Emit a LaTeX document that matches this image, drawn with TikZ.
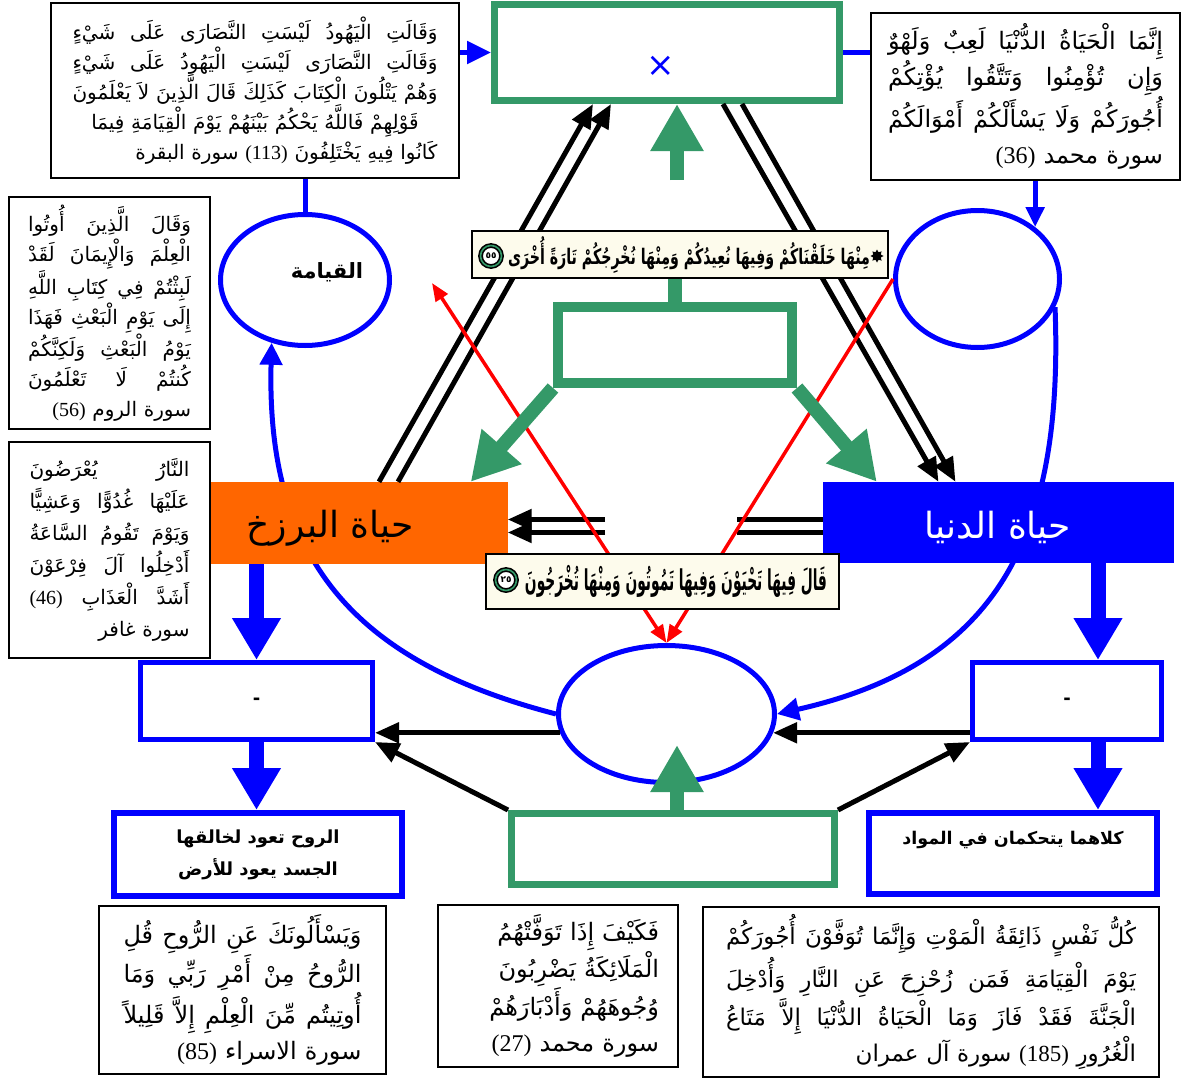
\documentclass[tikz,border=0pt]{standalone}
\usepackage{fontspec}
\usepackage{graphicx}
\usetikzlibrary{arrows.meta,shapes.geometric}
\TeXXeTstate=1
\newfontfamily\arabicfont[Script=Arabic]{DejaVu Sans}
\newfontfamily\numfont{Liberation Serif}
% one right-to-left line, a justified one, and a centred one
\newcommand{\ar}[1]{\beginR #1\endR}
\newcommand{\jl}[1]{\leavevmode\hbox to \hsize{\spaceskip=0.3em plus 1fil\relax\beginR #1\endR}}
\newcommand{\cl}[1]{\leavevmode\hbox to \hsize{\hfil\beginR #1\endR\hfil}}
\newcommand{\nm}[1]{\beginL{\numfont #1}\endL}
\newcommand{\fsz}[2]{\fontsize{#1}{#2}\selectfont}
\definecolor{qgreen}{RGB}{52,153,104}
\definecolor{qblue}{RGB}{0,0,255}
\definecolor{qorange}{RGB}{255,102,0}
\definecolor{qred}{RGB}{255,0,0}
\definecolor{qcream}{RGB}{253,251,236}
\pgfdeclarelayer{bg}
\pgfdeclarelayer{top}
\pgfsetlayers{bg,main,top}

\begin{document}
\begin{tikzpicture}[x=1pt,y=-1pt,
  txtbox/.style={draw=black, line width=1.6pt, fill=white, inner xsep=9pt, inner ysep=0pt, align=right},
  greenbox/.style={draw=qgreen, fill=white, inner sep=0pt},
  bluebox/.style={draw=qblue, fill=white, inner sep=0pt, align=center, font=\arabicfont\bfseries\fsz{18}{32}},
  blueell/.style={ellipse, draw=qblue, line width=5pt, fill=white, inner sep=0pt},
  banner/.style={draw=black, line width=2pt, fill=qcream, inner sep=0pt},
  bluearc/.style={draw=qblue, line width=5pt},
  blackarrow/.style={draw=black, line width=5pt, -{Triangle[length=24pt,width=20pt]}},
  blackline/.style={draw=black, line width=5pt},
  blueflow/.style={draw=qblue, line width=15pt, -{Triangle[length=42pt,width=46pt]}},
  greenflow/.style={draw=qgreen, line width=14pt, -{Triangle[length=47pt,width=50pt]}},
  redline/.style={draw=qred, line width=3.5pt},
  versenum/.style={circle, draw=black, line width=1.6pt, double=qgreen, double distance=1.6pt, fill=white, minimum size=21pt, inner sep=0pt, font=\arabicfont\bfseries\fsz{9}{9}},
]
\begin{pgfonlayer}{bg}
\fill[white] (0,0) rectangle (1184,1079);
\end{pgfonlayer}
\useasboundingbox (0,0) rectangle (1184,1079);

% ---------- quotation boxes ----------
\node[txtbox, minimum width=408pt, minimum height=175pt, text width=365pt, font=\arabicfont\fsz{20}{30}] (tlbox) at (255,90.5) {%
\jl{وَقَالَتِ الْيَهُودُ لَيْسَتِ النَّصَارَى عَلَى شَيْءٍ}\\
\jl{وَقَالَتِ النَّصَارَى لَيْسَتِ الْيَهُودُ عَلَى شَيْءٍ}\\
\jl{وَهُمْ يَتْلُونَ الْكِتَابَ كَذَلِكَ قَالَ الَّذِينَ لاَ يَعْلَمُونَ}\\
\cl{قَوْلِهِمْ فَاللَّهُ يَحْكُمُ بَيْنَهُمْ يَوْمَ الْقِيَامَةِ فِيمَا}\\
\ar{كَانُوا فِيهِ يَخْتَلِفُونَ \nm{(113)} سورة البقرة}};

\node[txtbox, minimum width=309pt, minimum height=167pt, text width=275pt, font=\arabicfont\fsz{24}{36}] (trbox) at (1025.5,96.5) {%
\jl{إِنَّمَا الْحَيَاةُ الدُّنْيَا لَعِبٌ وَلَهْوٌ}\\
\jl{وَإِن تُؤْمِنُوا وَتَتَّقُوا يُؤْتِكُمْ}\\
\jl{أُجُورَكُمْ وَلَا يَسْأَلْكُمْ أَمْوَالَكُمْ}\\
\ar{سورة محمد \nm{(36)}}};

\node[txtbox, minimum width=201pt, minimum height=232pt, text width=163pt, font=\arabicfont\fsz{20}{30}] (lqbox) at (109.5,313) {%
\jl{وَقَالَ الَّذِينَ أُوتُوا}\\
\jl{الْعِلْمَ وَالْإِيمَانَ لَقَدْ}\\
\jl{لَبِثْتُمْ فِي كِتَابِ اللَّهِ}\\
\jl{إِلَى يَوْمِ الْبَعْثِ فَهَذَا}\\
\jl{يَوْمُ الْبَعْثِ وَلَكِنَّكُمْ}\\
\jl{كُنتُمْ لَا تَعْلَمُونَ}\\
\ar{سورة الروم \nm{(56)}}};

\node[txtbox, minimum width=201pt, minimum height=216pt, text width=160pt, font=\arabicfont\fsz{20}{32}] (lbbox) at (109.5,550) {%
\jl{النَّارُ يُعْرَضُونَ}\\
\jl{عَلَيْهَا غُدُوًّا وَعَشِيًّا}\\
\jl{وَيَوْمَ تَقُومُ السَّاعَةُ}\\
\jl{أَدْخِلُوا آلَ فِرْعَوْنَ}\\
\jl{أَشَدَّ الْعَذَابِ \nm{(46)}}\\
\ar{سورة غافر}};

\node[txtbox, minimum width=287pt, minimum height=168pt, text width=238pt, font=\arabicfont\fsz{24}{36}] (blbox) at (242.5,990) {%
\jl{وَيَسْأَلُونَكَ عَنِ الرُّوحِ قُلِ}\\
\jl{الرُّوحُ مِنْ أَمْرِ رَبِّي وَمَا}\\
\jl{أُوتِيتُم مِّنَ الْعِلْمِ إِلاَّ قَلِيلاً}\\
\ar{سورة الاسراء \nm{(85)}}};

\node[txtbox, minimum width=240pt, minimum height=162pt, text width=202pt, font=\arabicfont\fsz{24}{36}] (bmbox) at (558,986) {%
\ar{فَكَيْفَ إِذَا تَوَفَّتْهُمُ}\\
\ar{الْمَلَائِكَةُ يَضْرِبُونَ}\\
\ar{وُجُوهَهُمْ وَأَدْبَارَهُمْ}\\
\ar{سورة محمد \nm{(27)}}};

\node[txtbox, minimum width=456pt, minimum height=170pt, text width=410pt, font=\arabicfont\fsz{23}{36}] (brbox) at (931,992) {%
\jl{كُلُّ نَفْسٍ ذَائِقَةُ الْمَوْتِ وَإِنَّمَا تُوَفَّوْنَ أُجُورَكُمْ}\\
\jl{يَوْمَ الْقِيَامَةِ فَمَن زُحْزِحَ عَنِ النَّارِ وَأُدْخِلَ}\\
\jl{الْجَنَّةَ فَقَدْ فَازَ وَمَا الْحَيَاةُ الدُّنْيَا إِلاَّ مَتَاعُ}\\
\ar{الْغُرُورِ \nm{(185)} سورة آل عمران}};

% ---------- green frames ----------
\node[greenbox, line width=7pt, minimum width=345pt, minimum height=96pt] (topgreen) at (667,52.5) {};
\node[text=qblue, font=\arabicfont\fsz{34}{34}] (xmark) at (661,66) {×};
\node[greenbox, line width=10pt, minimum width=234pt, minimum height=76pt] (midgreen) at (675,345) {};
\node[greenbox, line width=7pt, minimum width=323pt, minimum height=71pt] (botgreen) at (673,849) {};

% ---------- the two lives ----------
\node[fill=qorange, minimum width=297pt, minimum height=82pt, inner sep=0pt] (orange) at (359,523) {};
\node[font=\arabicfont\fsz{36}{36}, text=black] (orangetext) at (330,528) {\ar{حياة البرزخ}};
\node[fill=qblue, minimum width=351pt, minimum height=81pt, inner sep=0pt] (blue) at (998.5,522.5) {};
\node[font=\arabicfont\fsz{36}{36}, text=white] (bluetext) at (998,527) {\ar{حياة الدنيا}};

% ---------- blue frames ----------
\node[bluebox, line width=5pt, minimum width=232pt, minimum height=77pt] (lminus) at (256.5,701) {-};
\node[bluebox, line width=5pt, minimum width=189pt, minimum height=77pt] (rminus) at (1067,701) {-};
\node[bluebox, line width=6pt, minimum width=288pt, minimum height=83pt] (lblue) at (258,854.5) {\ar{الروح تعود لخالقها}\\\ar{الجسد يعود للأرض}};
\node[bluebox, line width=6pt, minimum width=288pt, minimum height=81pt, font=\arabicfont\bfseries\fsz{17.5}{32}] (rblue) at (1013,853.5) {\ar{كلاهما يتحكمان في المواد}\\ ~};
\coordinate (rmn) at ([xshift=31pt]rminus.north);
\coordinate (rms) at ([xshift=31pt]rminus.south);

% ---------- ellipses ----------
\node[blueell, minimum width=169pt, minimum height=131pt] (lell) at (305,280) {};
\node[font=\arabicfont\bfseries\fsz{21}{21}] (qlabel) at (327,272) {\ar{القيامة}};
\node[blueell, minimum width=164pt, minimum height=137pt] (rell) at (977.5,279) {};
\node[blueell, minimum width=216pt, minimum height=137pt] (bell) at (666.5,714) {};

% ---------- verse banners ----------
\begin{pgfonlayer}{top}
\node[banner, minimum width=416pt, minimum height=47pt] (tban) at (680,254.5) {};
\node[inner sep=0pt, font=\arabicfont\bfseries\fsz{16}{16}] (tbantext) at (689,255) {\resizebox*{362pt}{37pt}{\ar{مِنْهَا خَلَقْنَاكُمْ وَفِيهَا نُعِيدُكُمْ وَمِنْهَا نُخْرِجُكُمْ تَارَةً أُخْرَى}}};
\node[versenum] (tbannum) at (491,256) {٥٥};
\node[star, star points=8, star point ratio=1.6, fill=black, minimum size=13pt, inner sep=0pt] (tbanstar) at (877,256) {};
\node[banner, minimum width=353pt, minimum height=55pt] (bban) at (662.5,581.5) {};
\node[inner sep=0pt, font=\arabicfont\bfseries\fsz{16}{16}] (bbantext) at (676,581) {\resizebox*{302pt}{32pt}{\ar{قَالَ فِيهَا تَحْيَوْنَ وَفِيهَا تَمُوتُونَ وَمِنْهَا تُخْرَجُونَ}}};
\node[versenum] (bbannum) at (506,580) {٢٥};
\end{pgfonlayer}

% ---------- blue cycle ----------
\begin{pgfonlayer}{bg}
\draw[bluearc, -{Triangle[length=22pt,width=22pt]}] (bell.west) .. controls (355,662) and (266,560) .. (lell.242);
\draw[bluearc, -{Triangle[length=22pt,width=22pt]}] (rell.-20) .. controls (1064,540) and (995,665) .. (bell.east);
\end{pgfonlayer}
\draw[bluearc] (tlbox.south -| lell.north) -- (lell.north);
\draw[bluearc, -{Triangle[length=24pt,width=22pt]}] (tlbox.east |- topgreen.west) -- (topgreen.west);
\draw[bluearc] (topgreen.east) -- (trbox.west |- topgreen.east);
\draw[bluearc, -{Triangle[length=20pt,width=18pt]}] (rell.42 |- trbox.south) -- (rell.42);

% ---------- black double arrows ----------
\draw[blackarrow] ([xshift=20pt]orange.north) -- ([xshift=-74pt]topgreen.south);
\draw[blackarrow] ([xshift=39pt]orange.north) -- ([xshift=-56pt]topgreen.south);
\draw[blackarrow] ([xshift=56pt]topgreen.south) -- ([xshift=-60pt]blue.north);
\draw[blackarrow] ([xshift=75pt]topgreen.south) -- ([xshift=-43pt]blue.north);
\coordinate (hlA) at (605,519.5);
\coordinate (hlB) at (605,532.5);
\coordinate (hrA) at (737,519.5);
\coordinate (hrB) at (737,532.5);
\draw[blackarrow] (hlA) -- (orange.east |- hlA);
\draw[blackarrow] (hlB) -- (orange.east |- hlB);
\draw[blackline] (blue.west |- hrA) -- (hrA);
\draw[blackline] (blue.west |- hrB) -- (hrB);

% ---------- black arrows at the bottom ----------
\draw[blackarrow] (bell.190) -- (lminus.east |- bell.190);
\draw[blackarrow] (rminus.west |- bell.-10) -- (bell.-10);
\draw[blackarrow] (botgreen.north west) -- (lminus.south east);
\draw[blackarrow] (botgreen.north east) -- (rminus.south west);

% ---------- red lines ----------
\coordinate (redL) at (432,283);
\draw[redline, {Triangle[length=18pt,width=14pt]}-{Triangle[length=18pt,width=14pt]}] (redL) -- (bell.north);
\draw[redline, -{Triangle[length=18pt,width=14pt]}] (rell.west) -- (bell.north);

% ---------- green arrows ----------
\coordinate (gtop) at (677,180);
\draw[greenflow] (gtop) -- ([xshift=10pt]topgreen.south);
\draw[draw=qgreen, line width=14pt] (tban.south -| midgreen.north) -- (midgreen.north);
\draw[greenflow] (midgreen.south west) -- ([xshift=-37pt]orange.north east);
\draw[greenflow] (midgreen.south east) -- ([xshift=54pt]blue.north west);
\coordinate (gbot) at (677,745);
\draw[greenflow] ([xshift=4pt]botgreen.north) -- (gbot);

% ---------- blue flow arrows ----------
\draw[blueflow] (orange.south -| lminus.north) -- (lminus.north);
\draw[blueflow] (lminus.south) -- (lblue.north -| lminus.south);
\draw[blueflow] (blue.south -| rmn) -- (rmn);
\draw[blueflow] (rms) -- (rblue.north -| rms);
\end{tikzpicture}
\end{document}
